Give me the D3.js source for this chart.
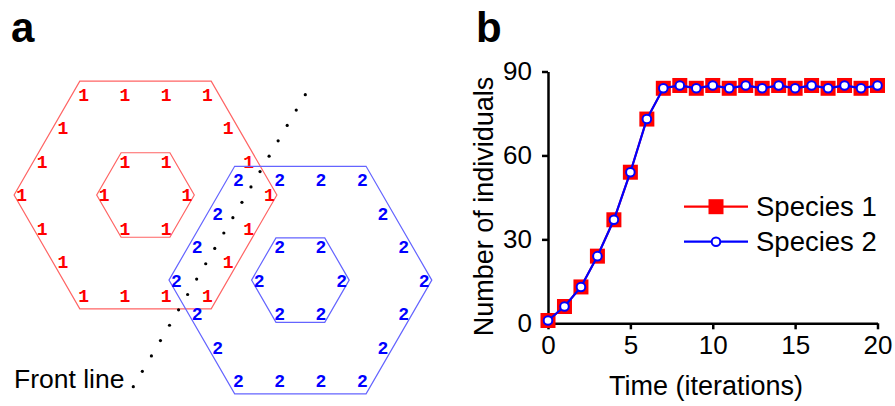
<!DOCTYPE html>
<html>
  <head>
    <meta charset="utf-8">
    <title>Front line and population growth</title>
    <style>
      body { margin: 0; background: #fff; }
      svg { display: block; font-family: "Liberation Sans", Arial, sans-serif; }
    </style>
  </head>
  <body>
    <div id="chart"></div>
    <script src="https://cdn.jsdelivr.net/npm/d3@7"></script>
    <script>
      (function(d3) {
        'use strict';

        // panel b data
        var time = [0, 1, 2, 3, 4, 5, 6, 7, 8, 9, 10, 11, 12, 13, 14, 15, 16, 17, 18, 19, 20];
        var species1 = [1, 6, 13, 24, 37, 54, 73, 84, 85, 84, 85, 84, 85, 84, 85, 84, 85, 84, 85, 84, 85];
        var species2 = [1, 6, 13, 24, 37, 54, 73, 84, 85, 84, 85, 84, 85, 84, 85, 84, 85, 84, 85, 84, 85];
        var seriesNames = ['Species 1', 'Species 2'];
        var xTicks = [0, 5, 10, 15, 20];
        var yTicks = [0, 30, 60, 90];

        // panel a data
        var colonyLabels = ['1', '2'];
        var ringSizes = [1, 3];
        var frontLineDots = 20;

        var width = 895;
        var height = 406;

        var svg = d3.select('#chart')
          .append('svg')
          .attr('width', width)
          .attr('height', height);

        // ---------- panel a ----------
        var pa = svg.append('g');

        pa.append('text')
          .attr('x', 11)
          .attr('y', 42)
          .attr('font-size', 42)
          .attr('font-weight', 'bold')
          .text('a');

        // lattice units -> pixels
        var lx = d3.scaleLinear().domain([0, 1]).range([145.5, 186.8]);
        var ly = d3.scaleLinear().domain([0, 1]).range([195, 228.5]);
        var colonyCentres = [[0, 0], [3.75, 2.54]];
        var strokeCols = ['#ff6464', '#6464ff'];
        var textCols = ['#ff0000', '#0000ff'];

        function ringPoints(n) {
          var corners = [[n, 0], [n / 2, n], [-n / 2, n], [-n, 0], [-n / 2, -n], [n / 2, -n]];
          var pts = [];
          for (var k = 0; k < 6; k++) {
            var a = corners[k], b = corners[(k + 1) % 6];
            for (var j = 0; j < n; j++) {
              pts.push([a[0] + (b[0] - a[0]) * j / n, a[1] + (b[1] - a[1]) * j / n]);
            }
          }
          return pts;
        }

        colonyLabels.forEach(function(lab, i) {
          var c = colonyCentres[i];
          var g = pa.append('g');
          ringSizes.forEach(function(n) {
            var cx = lx(c[0]), cy = ly(c[1]);
            var r = lx(n) - lx(0) + 7.5;
            var hex = d3.range(6).map(function(k) {
              var ang = k * Math.PI / 3;
              return [cx + r * Math.cos(ang), cy + r * Math.sin(ang)];
            });
            g.append('path')
              .attr('d', d3.line()(hex) + 'Z')
              .attr('fill', 'none')
              .attr('stroke', strokeCols[i])
              .attr('stroke-width', 1.2);
            g.selectAll(null)
              .data(ringPoints(n))
              .enter()
              .append('text')
              .attr('x', function(p) { return lx(c[0] + p[0]); })
              .attr('y', function(p) { return ly(c[1] + p[1]); })
              .attr('text-anchor', 'middle')
              .attr('dy', '0.36em')
              .attr('font-family', '"Liberation Mono", "DejaVu Sans Mono", monospace')
              .attr('font-weight', 'bold')
              .attr('font-size', 18)
              .attr('fill', textCols[i])
              .text(lab);
          });
        });

        // front line dots
        var fx = d3.scaleLinear().domain([0, frontLineDots - 1]).range([305.3, 133.3]);
        var fy = d3.scaleLinear().domain([0, frontLineDots - 1]).range([94.7, 386.7]);
        pa.selectAll('circle.dot')
          .data(d3.range(frontLineDots))
          .enter()
          .append('circle')
          .attr('class', 'dot')
          .attr('cx', function(d) { return fx(d); })
          .attr('cy', function(d) { return fy(d); })
          .attr('r', 1.6)
          .attr('fill', '#000');

        pa.append('text')
          .attr('x', 14)
          .attr('y', 388)
          .attr('font-size', 26.5)
          .text('Front line');

        // ---------- panel b ----------
        var pb = svg.append('g');

        pb.append('text')
          .attr('x', 476)
          .attr('y', 42)
          .attr('font-size', 42)
          .attr('font-weight', 'bold')
          .text('b');

        var x = d3.scaleLinear().domain([0, 20]).range([548, 877.5]);
        var y = d3.scaleLinear().domain([0, 90]).range([323.3, 71.5]);

        var xAxis = pb.append('g')
          .attr('transform', 'translate(0,' + y(0) + ')')
          .call(d3.axisBottom(x).tickValues(xTicks).tickSize(6).tickPadding(6).tickSizeOuter(0));
        var yAxis = pb.append('g')
          .attr('transform', 'translate(' + x(0) + ',0)')
          .call(d3.axisLeft(y).tickValues(yTicks).tickSize(6).tickPadding(10).tickSizeOuter(0));

        [xAxis, yAxis].forEach(function(ax) {
          ax.selectAll('path, line').attr('stroke', '#000').attr('stroke-width', 2.5);
          ax.selectAll('text')
            .attr('font-family', '"Liberation Sans", Arial, sans-serif')
            .attr('font-size', 26)
            .attr('fill', '#000');
        });

        pb.append('text')
          .attr('x', 706)
          .attr('y', 395)
          .attr('text-anchor', 'middle')
          .attr('font-size', 27)
          .text('Time (iterations)');

        pb.append('text')
          .attr('transform', 'translate(493,206.5) rotate(-90)')
          .attr('text-anchor', 'middle')
          .attr('font-size', 27)
          .text('Number of individuals');

        var line = d3.line()
          .x(function(d, i) { return x(time[i]); })
          .y(function(d) { return y(d); });

        pb.append('path')
          .datum(species1)
          .attr('d', line)
          .attr('fill', 'none')
          .attr('stroke', '#ff0000')
          .attr('stroke-width', 2);

        pb.selectAll('rect.s1')
          .data(species1)
          .enter()
          .append('rect')
          .attr('class', 's1')
          .attr('x', function(d, i) { return x(time[i]) - 7.5; })
          .attr('y', function(d) { return y(d) - 7.5; })
          .attr('width', 15)
          .attr('height', 15)
          .attr('fill', '#ff0000');

        pb.append('path')
          .datum(species2)
          .attr('d', line)
          .attr('fill', 'none')
          .attr('stroke', '#0000ff')
          .attr('stroke-width', 2.2);

        pb.selectAll('circle.s2')
          .data(species2)
          .enter()
          .append('circle')
          .attr('class', 's2')
          .attr('cx', function(d, i) { return x(time[i]); })
          .attr('cy', function(d) { return y(d); })
          .attr('r', 4.3)
          .attr('fill', '#fff')
          .attr('stroke', '#0000ff')
          .attr('stroke-width', 2);

        // legend
        var legend = pb.append('g');
        var legY = [206.7, 241.7];
        var legCols = ['#ff0000', '#0000ff'];
        seriesNames.forEach(function(name, i) {
          legend.append('line')
            .attr('x1', 684).attr('x2', 748)
            .attr('y1', legY[i]).attr('y2', legY[i])
            .attr('stroke', legCols[i])
            .attr('stroke-width', 2.2);
          if (i === 0) {
            legend.append('rect')
              .attr('x', 716 - 7.5).attr('y', legY[i] - 7.5)
              .attr('width', 15).attr('height', 15)
              .attr('fill', '#ff0000');
          } else {
            legend.append('circle')
              .attr('cx', 716).attr('cy', legY[i])
              .attr('r', 4.3)
              .attr('fill', '#fff')
              .attr('stroke', '#0000ff')
              .attr('stroke-width', 2);
          }
          legend.append('text')
            .attr('x', 756)
            .attr('y', legY[i] + 9.5)
            .attr('font-size', 27.5)
            .text(name);
        });
      })(window.d3);
    </script>
  </body>
</html>
